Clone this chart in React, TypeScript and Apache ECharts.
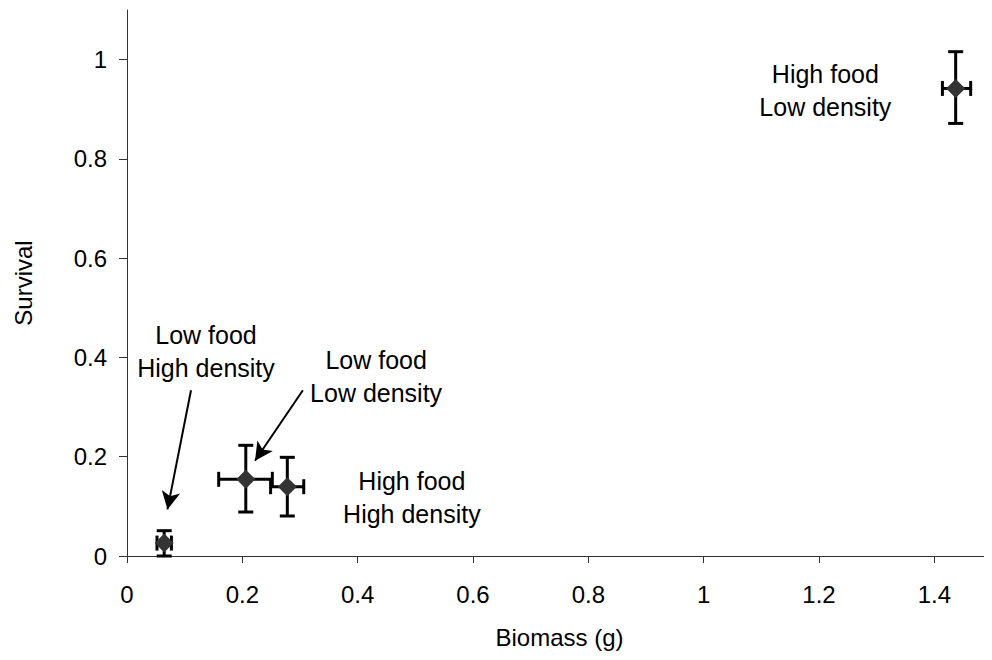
import React, { useEffect, useRef } from "react";
import * as echarts from "echarts";

// Treatment points: [biomass, survival]
const pointNames = ["Low food High density", "Low food Low density", "High food High density", "High food Low density"];
const biomass = [0.0645, 0.206, 0.278, 1.437];
const survival = [0.026, 0.1545, 0.1396, 0.942];
const biomassLow = [0.052, 0.159, 0.249, 1.414];
const biomassHigh = [0.077, 0.252, 0.3065, 1.463];
const survivalLow = [0.0, 0.0886, 0.0806, 0.8715];
const survivalHigh = [0.051, 0.223, 0.1988, 1.016];

const xTicks = [0, 0.2, 0.4, 0.6, 0.8, 1, 1.2, 1.4];
const yTicks = [0, 0.2, 0.4, 0.6, 0.8, 1];

// Annotations: text and centre position in data coordinates
const annotationTexts = ["High food\nLow density", "Low food\nHigh density", "Low food\nLow density", "High food\nHigh density"];
const annotationX = [1.211, 0.137, 0.432, 0.494];
const annotationY = [0.9386, 0.413, 0.3625, 0.118];

// Arrows: start and end in data coordinates
const arrowStart = [[0.111, 0.334], [0.305, 0.334]];
const arrowEnd = [[0.0702, 0.0939], [0.222, 0.192]];

const FONT = "'Liberation Sans', Arial, sans-serif";

export default function App() {
  const ref = useRef<HTMLDivElement>(null);
  useEffect(() => {
    if (!ref.current) return;
    const chart = echarts.init(ref.current, null, { renderer: "svg" });
    const errData = biomass.map((x, i) => [x, survival[i], biomassLow[i], biomassHigh[i], survivalLow[i], survivalHigh[i]]);
    chart.setOption({
      animation: false,
      textStyle: { fontFamily: FONT },
      grid: { left: 127, top: 10, bottom: 104, right: -6 },
      xAxis: {
        type: "value",
        min: 0,
        max: 1.5,
        interval: 0.1,
        name: "Biomass (g)",
        nameLocation: "middle",
        nameGap: 69,
        nameTextStyle: { fontSize: 24, color: "#000", fontFamily: FONT },
        splitLine: { show: false },
        axisLine: { lineStyle: { color: "#333", width: 1 } },
        axisTick: { show: true, length: 7, lineStyle: { color: "#333" }, customValues: xTicks },
        axisLabel: { fontSize: 24, color: "#000", margin: 26, fontFamily: FONT, customValues: xTicks },
      },
      yAxis: {
        type: "value",
        min: 0,
        max: 1.1,
        interval: 0.1,
        name: "Survival",
        nameLocation: "middle",
        nameGap: 92,
        nameTextStyle: { fontSize: 24, color: "#000", fontFamily: FONT },
        splitLine: { show: false },
        axisLine: { show: true, lineStyle: { color: "#333", width: 1 } },
        axisTick: { show: true, length: 8, lineStyle: { color: "#333" }, customValues: yTicks },
        axisLabel: { fontSize: 24, color: "#000", margin: 20, fontFamily: FONT, customValues: yTicks },
      },
      series: [
        {
          type: "custom",
          silent: true,
          data: errData,
          renderItem: (params: any, api: any) => {
            const x = api.value(0), y = api.value(1);
            const xl = api.value(2), xh = api.value(3), yl = api.value(4), yh = api.value(5);
            const c = api.coord([x, y]);
            const pxl = api.coord([xl, y]);
            const pxh = api.coord([xh, y]);
            const pyl = api.coord([x, yl]);
            const pyh = api.coord([x, yh]);
            const cap = 7.5;
            const style = { stroke: "#000", lineWidth: 3 };
            return {
              type: "group",
              children: [
                { type: "line", shape: { x1: c[0], y1: pyl[1], x2: c[0], y2: pyh[1] }, style },
                { type: "line", shape: { x1: c[0] - cap, y1: pyl[1], x2: c[0] + cap, y2: pyl[1] }, style },
                { type: "line", shape: { x1: c[0] - cap, y1: pyh[1], x2: c[0] + cap, y2: pyh[1] }, style },
                { type: "line", shape: { x1: pxl[0], y1: c[1], x2: pxh[0], y2: c[1] }, style },
                { type: "line", shape: { x1: pxl[0], y1: c[1] - cap, x2: pxl[0], y2: c[1] + cap }, style },
                { type: "line", shape: { x1: pxh[0], y1: c[1] - cap, x2: pxh[0], y2: c[1] + cap }, style },
              ],
            };
          },
          z: 2,
        },
        {
          type: "scatter",
          silent: true,
          symbol: "diamond",
          symbolSize: 19,
          itemStyle: { color: "#333333", opacity: 1 },
          data: biomass.map((x, i) => ({ name: pointNames[i], value: [x, survival[i]] })),
          z: 3,
          markLine: {
            silent: true,
            symbol: ["none", "arrow"],
            symbolSize: [14, 18],
            label: { show: false },
            lineStyle: { color: "#000", width: 2, type: "solid", opacity: 1 },
            data: arrowStart.map((s, i) => [{ coord: s }, { coord: arrowEnd[i] }]),
          },
        },
      ],
    });
    const texts = annotationTexts.map((t, i) => {
      const p = chart.convertToPixel({ gridIndex: 0 }, [annotationX[i], annotationY[i]]) as number[];
      return {
        type: "text",
        x: p[0],
        y: p[1],
        silent: true,
        style: {
          text: t,
          fill: "#000",
          font: `25px ${FONT}`,
          lineHeight: 33,
          align: "center",
          verticalAlign: "middle",
        },
      };
    });
    chart.setOption({ graphic: texts });
    return () => chart.dispose();
  }, []);
  return <div ref={ref} style={{ width: 992, height: 660, margin: -8 }} />;
}
